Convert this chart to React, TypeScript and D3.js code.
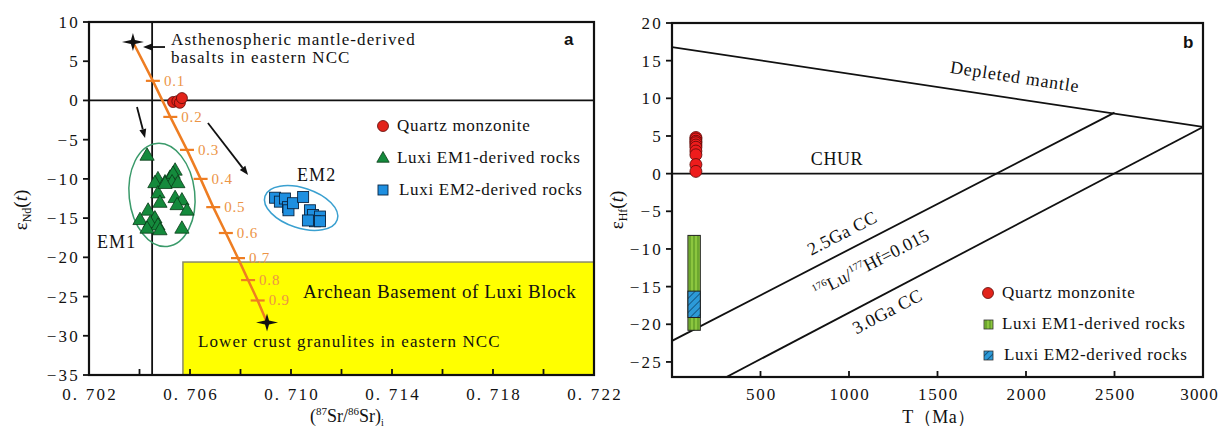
import React from "react";
import * as d3 from "d3";

// ---------- Panel a data ----------
const srTicks = [0.702, 0.706, 0.71, 0.714, 0.718, 0.722];
const srTickLabels = ["0. 702", "0. 706", "0. 710", "0. 714", "0. 718", "0. 722"];
const srMinorTicks = [0.704, 0.706, 0.708, 0.71, 0.712, 0.714, 0.716, 0.718, 0.72];
const ndTicks = [10, 5, 0, -5, -10, -15, -20, -25, -30, -35];

const mixFrac = ["", "0.1", "0.2", "0.3", "0.4", "0.5", "0.6", "0.7", "0.8", "0.9", ""];
const mixSr = [0.70374, 0.70453, 0.70522, 0.70588, 0.70642, 0.70692, 0.70742, 0.7079, 0.7083, 0.70868, 0.70905];
const mixNd = [7.45, 2.5, -2.1, -6.3, -10.0, -13.6, -16.9, -20.1, -22.9, -25.5, -28.3];

const qmSr = [0.70533, 0.7055, 0.7056, 0.70568];
const qmNd = [-0.2, -0.1, -0.3, 0.3];

const em1Sr = [0.7043, 0.70473, 0.70501, 0.70521, 0.70541, 0.70533, 0.70529, 0.70552, 0.70461, 0.70473, 0.70481, 0.70541, 0.70568, 0.70549, 0.70588, 0.70434, 0.70402, 0.70461, 0.70442, 0.70473, 0.7043, 0.70481, 0.70568, 0.70501];
const em1Nd = [-7.0, -10.0, -10.4, -9.8, -8.9, -9.3, -10.4, -10.5, -10.5, -11.8, -13.0, -12.4, -12.7, -13.3, -14.0, -14.0, -15.2, -15.0, -15.6, -15.9, -16.3, -16.5, -16.3, -10.6];

const em2Sr = [0.70937, 0.70956, 0.70976, 0.70988, 0.7099, 0.71008, 0.71048, 0.71075, 0.71087, 0.71115, 0.71095, 0.71067, 0.71115];
const em2Nd = [-12.4, -12.9, -12.5, -13.6, -14.0, -13.1, -12.3, -14.0, -14.6, -14.8, -15.4, -15.3, -15.4];

// ---------- Panel b data ----------
const tTicks = [500, 1000, 1500, 2000, 2500, 3000];
const tMinor = [500, 1000, 1500, 2000, 2500];
const hfTicks = [20, 15, 10, 5, 0, -5, -10, -15, -20, -25];
const qmT = 135;
const qmHf = [4.8, 4.6, 4.3, 4.1, 3.8, 3.5, 3.0, 2.5, 1.2, 0.3];
const barT = [90, 160];
const em1Hf = [-20.8, -8.2];
const em2Hf = [-19.1, -15.6];
const dmLine = [[0, 16.8], [3000, 6.2]];
const cc25Line = [[0, -22.2], [2500, 8.1]];
const cc30Line = [[0, -30.8], [3000, 6.2]];

const serif = "'Liberation Serif', 'Times New Roman', serif";
const sans = "'Liberation Sans', Arial, sans-serif";
const ORANGE = "#EE7D22";
const ORANGE_L = "#EC9446";

const xA = d3.scaleLinear().domain([0.702, 0.722]).range([89, 594]);
const yA = d3.scaleLinear().domain([-35, 10]).range([375, 22]);
const xB = d3.scaleLinear().domain([0, 3000]).range([672, 1203]);
const yB = d3.scaleLinear().domain([-27, 20]).range([377, 23]);

function starPath(cx: number, cy: number) {
  return `M${cx},${cy - 9}L${cx + 2},${cy - 2}L${cx + 11},${cy}L${cx + 2},${cy + 2}L${cx},${cy + 9}L${cx - 2},${cy + 2}L${cx - 11},${cy}L${cx - 2},${cy - 2}Z`;
}
function triPath(cx: number, cy: number, s = 7.5) {
  return `M${cx},${cy - s}L${cx + s * 0.95},${cy + s * 0.65}L${cx - s * 0.95},${cy + s * 0.65}Z`;
}

function Arrow({ x1, y1, x2, y2 }: { x1: number; y1: number; x2: number; y2: number }) {
  const ang = Math.atan2(y2 - y1, x2 - x1);
  const L = 9, Wd = 3.5;
  const bx = x2 - L * Math.cos(ang), by = y2 - L * Math.sin(ang);
  const px = -Math.sin(ang) * Wd, py = Math.cos(ang) * Wd;
  return (
    <g>
      <line x1={x1} y1={y1} x2={bx} y2={by} stroke="#111" strokeWidth={1.8} />
      <path d={`M${x2},${y2}L${bx + px},${by + py}L${bx - px},${by - py}Z`} fill="#111" />
    </g>
  );
}

export default function App() {
  const lineGen = d3.line<number>().x((_, i) => xA(mixSr[i])).y((_, i) => yA(mixNd[i]));
  const mixPath = lineGen(mixSr) || "";
  const last = mixSr.length - 1;

  const lineB = (pts: number[][]) => d3.line<number[]>().x((p) => xB(p[0])).y((p) => yB(p[1]))(pts) || "";
  const angOf = (pts: number[][]) =>
    (Math.atan2(yB(pts[1][1]) - yB(pts[0][1]), xB(pts[1][0]) - xB(pts[0][0])) * 180) / Math.PI;

  const tickFont = { fontFamily: serif, fontSize: 17, letterSpacing: 2.2, fill: "#111" } as const;
  const annFont = { fontFamily: serif, fontSize: 17, letterSpacing: 1.1, fill: "#111" } as const;
  const legFont = { fontFamily: serif, fontSize: 17, letterSpacing: 0.7, fill: "#111" } as const;

  return (
    <svg width={1221} height={428} style={{ position: "absolute", left: 0, top: 0, background: "#fff" }}>
      <defs>
        <clipPath id="clipA"><rect x={89} y={22} width={505} height={353} /></clipPath>
        <clipPath id="clipB"><rect x={672} y={23} width={531} height={354} /></clipPath>
        <pattern id="vstripe" width={4} height={4} patternUnits="userSpaceOnUse">
          <rect width={4} height={4} fill="#8CC63F" />
          <line x1={2} y1={0} x2={2} y2={4} stroke="#4E8A1E" strokeWidth={1} />
        </pattern>
        <pattern id="dstripe" width={5} height={5} patternUnits="userSpaceOnUse" patternTransform="rotate(-45)">
          <rect width={5} height={5} fill="#2C9AD8" />
          <line x1={0} y1={2.5} x2={5} y2={2.5} stroke="#14507A" strokeWidth={0.9} />
        </pattern>
      </defs>

      {/* ================= Panel a ================= */}
      <g clipPath="url(#clipA)">
        <rect x={xA(0.70572)} y={yA(-20.6)} width={xA(0.722) - xA(0.70572)} height={yA(-35) - yA(-20.6)} fill="#FFFF00" stroke="#8a8a6a" strokeWidth={1.5} />
        <line x1={xA(0.7045)} x2={xA(0.7045)} y1={yA(10)} y2={yA(-35)} stroke="#111" strokeWidth={1.8} />
        <line x1={xA(0.702)} x2={xA(0.722)} y1={yA(0)} y2={yA(0)} stroke="#111" strokeWidth={1.8} />
      </g>

      {/* ellipses */}
      <ellipse cx={xA(0.70489)} cy={yA(-12.05)} rx={xA(0.70489 + 0.0013) - xA(0.70489)} ry={yA(-12.05) - yA(-12.05 + 6.6)} fill="none" stroke="#3A9A6A" strokeWidth={1.5} transform={`rotate(-6 ${xA(0.70489)} ${yA(-12.05)})`} />
      <ellipse cx={xA(0.7104)} cy={yA(-13.71)} rx={38} ry={20} fill="none" stroke="#3AA0D0" strokeWidth={1.5} transform={`rotate(18 ${xA(0.7104)} ${yA(-13.71)})`} />

      {/* arrows */}
      <Arrow x1={xA(0.70501)} y1={yA(6.81)} x2={xA(0.70414)} y2={yA(6.81)} />
      <Arrow x1={xA(0.7039)} y1={yA(-0.84)} x2={xA(0.70422)} y2={yA(-4.79)} />
      <Arrow x1={xA(0.70671)} y1={yA(-2.88)} x2={xA(0.7083)} y2={yA(-9.5)} />

      {/* mixing line */}
      <path d={mixPath} fill="none" stroke={ORANGE} strokeWidth={2.5} />
      {mixFrac.map((f, i) =>
        f ? (
          <g key={"mt" + i}>
            <line x1={xA(mixSr[i]) - 7} x2={xA(mixSr[i]) + 7} y1={yA(mixNd[i])} y2={yA(mixNd[i])} stroke={ORANGE} strokeWidth={2.2} />
            <text x={xA(mixSr[i]) + 11} y={yA(mixNd[i]) + 5} fontFamily={serif} fontSize={15} letterSpacing={0.8} fill={ORANGE_L}>{f}</text>
          </g>
        ) : null
      )}
      <path d={starPath(xA(mixSr[0]), yA(mixNd[0]))} fill="#111" />
      <path d={starPath(xA(mixSr[last]), yA(mixNd[last]))} fill="#111" />

      {/* points */}
      {em1Sr.map((s, i) => (
        <path key={"t" + i} d={triPath(xA(s), yA(em1Nd[i]))} fill="#148A3C" stroke="#0A3A18" strokeWidth={0.8} />
      ))}
      {em2Sr.map((s, i) => (
        <rect key={"s" + i} x={xA(s) - 5.5} y={yA(em2Nd[i]) - 5.5} width={11} height={11} fill="#1E8FE0" stroke="#0A2440" strokeWidth={0.9} />
      ))}
      {qmSr.map((s, i) => (
        <circle key={"c" + i} cx={xA(s)} cy={yA(qmNd[i])} r={5.5} fill="#E2231A" stroke="#5a0a08" strokeWidth={0.8} />
      ))}

      {/* annotations a */}
      <text x={171} y={45} {...annFont}>Asthenospheric mantle-derived</text>
      <text x={171} y={63} {...annFont}>basalts in eastern NCC</text>
      <text x={297} y={181} {...annFont} fontSize={18}>EM2</text>
      <text x={97} y={248} {...annFont} fontSize={18}>EM1</text>
      <text x={303} y={298} fontFamily={serif} fontSize={19} letterSpacing={0.6} fill="#111">Archean Basement of Luxi Block</text>
      <text x={198} y={347} {...annFont}>Lower crust granulites in eastern NCC</text>
      <text x={564} y={45} fontFamily={sans} fontWeight="bold" fontSize={17} fill="#111">a</text>

      {/* legend a */}
      <circle cx={383} cy={126} r={5.5} fill="#E2231A" stroke="#5a0a08" strokeWidth={0.8} />
      <text x={397} y={131} {...legFont}>Quartz  monzonite</text>
      <path d={triPath(383, 158, 6.5)} fill="#148A3C" stroke="#0A3A18" strokeWidth={0.8} />
      <text x={397} y={163} {...legFont}>Luxi EM1-derived rocks</text>
      <rect x={378} y={185} width={10} height={10} fill="#1E8FE0" stroke="#0A2440" strokeWidth={0.9} />
      <text x={399} y={195} {...legFont}>Luxi EM2-derived rocks</text>

      {/* axes a */}
      <rect x={89} y={22} width={505} height={353} fill="none" stroke="#111" strokeWidth={2.2} />
      {srMinorTicks.map((t) => (
        <line key={"sx" + t} x1={xA(t)} x2={xA(t)} y1={375} y2={369} stroke="#111" strokeWidth={1.8} />
      ))}
      {srTicks.map((t, i) => (
        <text key={"sl" + t} x={xA(t) + 1} y={400} textAnchor="middle" {...tickFont}>{srTickLabels[i]}</text>
      ))}
      {ndTicks.map((t) => (
        <g key={"ny" + t}>
          <line x1={83} x2={89} y1={yA(t)} y2={yA(t)} stroke="#111" strokeWidth={1.8} />
          <text x={80} y={yA(t) + 6} textAnchor="end" {...tickFont}>{t < 0 ? "\u2212" + Math.abs(t) : String(t)}</text>
        </g>
      ))}
      <text transform="translate(27,210) rotate(-90)" textAnchor="middle" fontFamily={serif} fontSize={19} fill="#111">
        ε<tspan fontSize={12} dy={4}>Nd</tspan><tspan dy={-4}>(</tspan><tspan fontStyle="italic">t</tspan>)
      </text>
      <text x={347} y={422} textAnchor="middle" fontFamily={serif} fontSize={18} fill="#111">
        (<tspan fontSize={11} dy={-7}>87</tspan><tspan dy={7}>Sr/</tspan><tspan fontSize={11} dy={-7}>86</tspan><tspan dy={7}>Sr)</tspan><tspan fontSize={10} dy={4}>i</tspan>
      </text>

      {/* ================= Panel b ================= */}
      <g clipPath="url(#clipB)">
        <line x1={xB(0)} x2={xB(3000)} y1={yB(0)} y2={yB(0)} stroke="#111" strokeWidth={1.8} />
        <path d={lineB(dmLine)} stroke="#111" strokeWidth={1.8} fill="none" />
        <path d={lineB(cc25Line)} stroke="#111" strokeWidth={1.8} fill="none" />
        <path d={lineB(cc30Line)} stroke="#111" strokeWidth={1.8} fill="none" />
      </g>

      <rect x={xB(barT[0])} y={yB(em1Hf[1])} width={xB(barT[1]) - xB(barT[0])} height={yB(em1Hf[0]) - yB(em1Hf[1])} fill="url(#vstripe)" stroke="#222" strokeWidth={1} />
      <rect x={xB(barT[0])} y={yB(em2Hf[1])} width={xB(barT[1]) - xB(barT[0])} height={yB(em2Hf[0]) - yB(em2Hf[1])} fill="url(#dstripe)" stroke="#222" strokeWidth={1} />
      {qmHf.map((v, i) => (
        <circle key={"bc" + i} cx={xB(qmT)} cy={yB(v)} r={6} fill="#EE1C1C" stroke="#5a0a08" strokeWidth={0.8} />
      ))}

      {/* labels b */}
      <text transform={`translate(${xB(1932)},${yB(12.1)}) rotate(${angOf(dmLine)})`} textAnchor="middle" fontFamily={serif} fontSize={18} letterSpacing={0.8} fill="#111">Depleted mantle</text>
      <text x={837} y={165} textAnchor="middle" fontFamily={serif} fontSize={18} letterSpacing={0.6} fill="#111">CHUR</text>
      <text transform={`translate(${xB(977)},${yB(-8.6)}) rotate(${angOf(cc25Line)})`} textAnchor="middle" fontFamily={serif} fontSize={18} letterSpacing={0.5} fill="#111">2.5Ga CC</text>
      <text transform={`translate(${xB(1140)},${yB(-12.6)}) rotate(${angOf(cc25Line)})`} textAnchor="middle" fontFamily={serif} fontSize={18} letterSpacing={0.2} fill="#111">
        <tspan fontSize={10} dy={-7}>176</tspan><tspan dy={7}>Lu/</tspan><tspan fontSize={10} dy={-7}>177</tspan><tspan dy={7}>Hf=0.015</tspan>
      </text>
      <text transform={`translate(${xB(1232)},${yB(-19.0)}) rotate(${angOf(cc30Line)})`} textAnchor="middle" fontFamily={serif} fontSize={18} letterSpacing={0.5} fill="#111">3.0Ga CC</text>
      <text x={1183} y={48} fontFamily={sans} fontWeight="bold" fontSize={17} fill="#111">b</text>

      {/* legend b */}
      <circle cx={988} cy={293} r={5.5} fill="#E2231A" stroke="#5a0a08" strokeWidth={0.8} />
      <text x={1002} y={298} {...legFont}>Quartz  monzonite</text>
      <rect x={984} y={320} width={9} height={9} fill="url(#vstripe)" stroke="#333" strokeWidth={0.8} />
      <text x={1002} y={329} {...legFont}>Luxi EM1-derived rocks</text>
      <rect x={984} y={351} width={9} height={9} fill="url(#dstripe)" stroke="#333" strokeWidth={0.8} />
      <text x={1004} y={360} {...legFont}>Luxi EM2-derived rocks</text>

      {/* axes b */}
      <rect x={672} y={23} width={531} height={354} fill="none" stroke="#111" strokeWidth={2.2} />
      {tMinor.map((t) => (
        <line key={"tx" + t} x1={xB(t)} x2={xB(t)} y1={377} y2={371} stroke="#111" strokeWidth={1.8} />
      ))}
      {tTicks.map((t) => (
        <text key={"tl" + t} x={t === 3000 ? 1219 : xB(t) + 1} y={400} textAnchor={t === 3000 ? "end" : "middle"} fontFamily={serif} fontSize={17} letterSpacing={t === 3000 ? 1.2 : 1.8} fill="#111">{t}</text>
      ))}
      {hfTicks.map((t) => (
        <g key={"hy" + t}>
          <line x1={666} x2={672} y1={yB(t)} y2={yB(t)} stroke="#111" strokeWidth={1.8} />
          <text x={663} y={yB(t) + 6} textAnchor="end" {...tickFont}>{t < 0 ? "\u2212" + Math.abs(t) : String(t)}</text>
        </g>
      ))}
      <text transform="translate(623,210) rotate(-90)" textAnchor="middle" fontFamily={serif} fontSize={19} fill="#111">
        ε<tspan fontSize={12} dy={4}>Hf</tspan><tspan dy={-4}>(</tspan><tspan fontStyle="italic">t</tspan>)
      </text>
      <text x={939} y={423} textAnchor="middle" fontFamily={serif} fontSize={18} letterSpacing={0.5} fill="#111">T（Ma）</text>
    </svg>
  );
}
